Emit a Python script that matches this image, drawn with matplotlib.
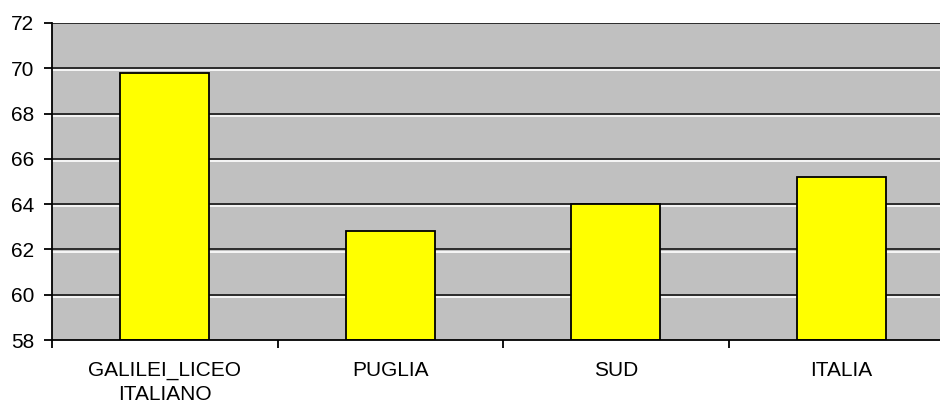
import matplotlib.pyplot as plt
import matplotlib.transforms as mtransforms

# Values.
categories = ['GALILEI_LICEO\nITALIANO', 'PUGLIA', 'SUD', 'ITALIA']
values = [69.8, 62.8, 64.0, 65.2]
y_ticks = [58, 60, 62, 64, 66, 68, 70, 72]

plt.rcParams['font.family'] = ['Liberation Sans', 'DejaVu Sans']

fig = plt.figure(figsize=(9.4, 4.07), dpi=100)
# plot area runs a little past the right edge of the picture, as in the original
ax = fig.add_axes([52/940, 67/407, 902/940, 317/407])
ax.set_facecolor('#c0c0c0')

x = list(range(len(categories)))
ax.bar(x, [v - 58 for v in values], bottom=58, width=0.395,
       color='#ffff00', edgecolor='black', linewidth=1.3, zorder=3)

# grid lines with a light line just underneath
shift = mtransforms.offset_copy(ax.transData, fig=fig, x=0, y=-1.5, units='points')
for t in y_ticks[1:-1]:
    ax.plot([-0.5, len(categories) - 0.5], [t, t], color='white', lw=1.2,
            transform=shift, zorder=1)
    ax.axhline(t, color='#202020', lw=1.3, zorder=2)
ax.axhline(72, color='#202020', lw=1.3, zorder=2)

ax.set_xlim(-0.5, len(categories) - 0.5)
ax.set_ylim(58, 72)
ax.set_yticks(y_ticks)
ax.set_xticks([i - 0.5 for i in range(len(categories) + 1)])
ax.set_xticklabels([])
ax.set_xticks(x, minor=True)
ax.set_xticklabels(categories, minor=True, fontsize=15, linespacing=1.35)
ax.tick_params(axis='x', which='minor', length=0, pad=15)
ax.tick_params(axis='x', which='major', length=6, width=1.3, direction='out')
ax.tick_params(axis='y', length=6, width=1.3, labelsize=15, pad=7)

for s in ['top', 'right']:
    ax.spines[s].set_visible(False)
for s in ['left', 'bottom']:
    ax.spines[s].set_linewidth(1.3)
    ax.spines[s].set_zorder(4)

fig.savefig('out.png', dpi=100)
